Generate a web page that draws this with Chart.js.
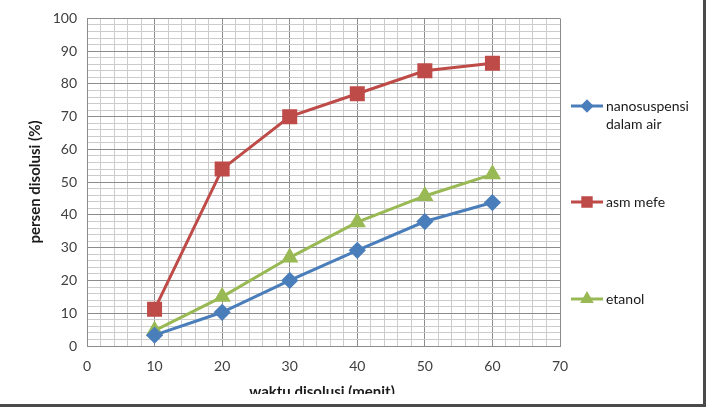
<!DOCTYPE html>
<html>
<head>
<meta charset="utf-8">
<script src="https://cdn.jsdelivr.net/npm/chart.js@4"></script>
<style>
  html, body { margin: 0; padding: 0; background: #fff; }
  #wrap { width: 706px; height: 410px; position: relative; }
</style>
</head>
<body>
<div id="wrap"><canvas id="chart" width="706" height="410"></canvas></div>
<script>
// data
const times = [10, 20, 30, 40, 50, 60];
const nanosuspensi = [3.3, 10.3, 20, 29.2, 38, 43.8];
const asmMefe = [11.2, 54, 70, 77, 84, 86.3];
const etanol = [4.7, 15, 27, 37.8, 45.8, 52.4];
const seriesNames = [["nanosuspensi", "dalam air"], ["asm mefe"], ["etanol"]];
const xTitle = "waktu disolusi (menit)";
const yTitle = "persen disolusi (%)";

const FONT = "Lato, 'Open Sans', sans-serif";
const MAJOR = "#8c8c8c";
const MINOR = "#cccccc";

function toPoints(vals) {
    return times.map((t, i) => ({ x: t, y: vals[i] }));
}

const gridColor = (ctx) =>
    Math.round(ctx.tick.value) % 10 === 0 ? MAJOR : MINOR;

// titles, legend and frame drawn by hand
const extras = {
    id: "extras",
    afterDraw(chart) {
        const c = chart.ctx;
        const area = chart.chartArea;
        c.save();
        c.fillStyle = "#1a1a1a";
        c.font = "bold 15px " + FONT;
        c.textAlign = "center";
        c.textBaseline = "middle";
        c.save();
        c.translate(35, 182);
        c.rotate(-Math.PI / 2);
        c.fillText(yTitle, 0, 0);
        c.restore();

        c.save();
        c.beginPath();
        c.rect(0, 0, 706, 394);
        c.clip();
        c.fillText(xTitle, 322, 392);
        c.restore();

        const rows = [106, 202, 299];
        chart.data.datasets.forEach((ds, i) => {
            const y = rows[i];
            c.strokeStyle = ds.borderColor;
            c.lineWidth = 3;
            c.beginPath();
            c.moveTo(571, y);
            c.lineTo(603, y);
            c.stroke();
            Chart.helpers.drawPoint(c, {
                pointStyle: ds.pointStyle,
                radius: ds.pointRadius * 0.7,
                borderWidth: 1
            }, 587, y);
            c.fillStyle = ds.backgroundColor;
            c.fill();
            c.fillStyle = "#1a1a1a";
            c.font = "14px " + FONT;
            c.textAlign = "left";
            c.textBaseline = "middle";
            seriesNames[i].forEach((line, k) => c.fillText(line, 606, y + k * 18));
        });

        c.fillStyle = "#4a4a4a";
        c.fillRect(703, 0, 3, 407);
        c.fillRect(0, 404, 706, 3);
        c.restore();
    }
};

new Chart(document.getElementById("chart"), {
    type: "line",
    data: {
        datasets: [
            {
                label: seriesNames[0].join(" "),
                data: toPoints(nanosuspensi),
                borderColor: "#4a7ebb",
                backgroundColor: "#4a7ebb",
                pointStyle: "rectRot",
                pointRadius: 6.5,
                borderWidth: 3
            },
            {
                label: seriesNames[1].join(" "),
                data: toPoints(asmMefe),
                borderColor: "#be4b48",
                backgroundColor: "#be4b48",
                pointStyle: "rect",
                pointRadius: 8.5,
                borderWidth: 3
            },
            {
                label: seriesNames[2].join(" "),
                data: toPoints(etanol),
                borderColor: "#98b954",
                backgroundColor: "#98b954",
                pointStyle: "triangle",
                pointRadius: 7,
                borderWidth: 3
            }
        ]
    },
    options: {
        responsive: false,
        animation: false,
        layout: { padding: { top: 18, right: 146, left: 0, bottom: 0 } },
        plugins: { legend: { display: false }, tooltip: { enabled: false } },
        elements: { line: { tension: 0 } },
        scales: {
            x: {
                type: "linear",
                min: 0,
                max: 70,
                afterFit: (s) => { s.height = 64; },
                grid: { color: gridColor, drawTicks: false, lineWidth: 1 },
                border: { color: MAJOR },
                ticks: {
                    stepSize: 2,
                    autoSkip: false,
                    maxRotation: 0,
                    padding: 12,
                    color: "#404040",
                    font: { family: FONT, size: 14 },
                    callback: (v) => (Math.round(v) % 10 === 0 ? Math.round(v) : "")
                }
            },
            y: {
                min: 0,
                max: 100,
                afterFit: (s) => { s.width = 87; },
                grid: { color: gridColor, drawTicks: false, lineWidth: 1 },
                border: { color: MAJOR },
                ticks: {
                    stepSize: 2,
                    autoSkip: false,
                    padding: 10,
                    color: "#404040",
                    font: { family: FONT, size: 14 },
                    callback: (v) => (Math.round(v) % 10 === 0 ? Math.round(v) : "")
                }
            }
        }
    },
    plugins: [extras]
});
</script>
</body>
</html>
